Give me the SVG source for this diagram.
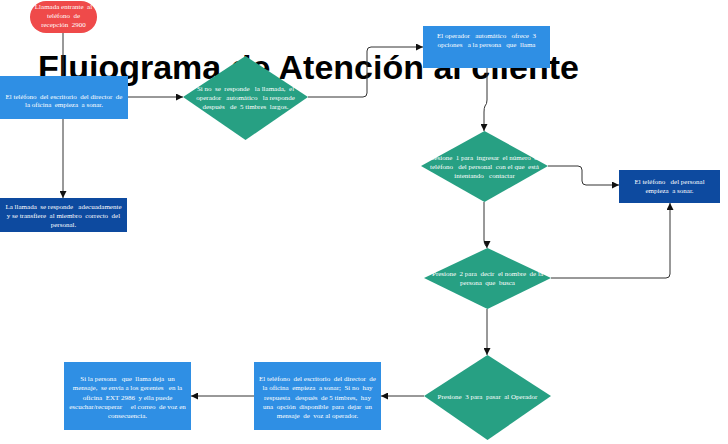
<svg xmlns="http://www.w3.org/2000/svg" width="728" height="444" viewBox="0 0 728 444">
<style>
.t{font-family:"Liberation Serif","Times New Roman",serif;font-size:7px;fill:#fff;text-anchor:middle;white-space:pre}
.title{font-family:"Liberation Sans",Arial,sans-serif;font-size:34px;font-weight:bold;fill:#000}
.b{fill:#2f8fe4}
.d{fill:#0d4a9f}
.g{fill:#27a083}
.c{fill:none;stroke:#333;stroke-width:1}
</style>
<defs>
<marker id="ah" viewBox="0 0 10 10" refX="10" refY="5" markerWidth="7" markerHeight="7" orient="auto" markerUnits="userSpaceOnUse">
<path d="M0,0 L10,5 L0,10 z" fill="#111"/>
</marker>
</defs>
<rect width="728" height="444" fill="#fff"/>
<text class="title" x="38" y="79">Flujograma de Atención al cliente</text>
<g id="connectors">
<path class="c" d="M63,33 V76"/>
<path class="c" d="M128,97 H183" marker-end="url(#ah)"/>
<path class="c" d="M63,119 V198" marker-end="url(#ah)"/>
<path class="c" d="M308,97 H363 Q367,97 367,93 V51 Q367,47 371,47 H423" marker-end="url(#ah)"/>
<path class="c" d="M487,68 V100 Q487,104 485,106 Q484,108 484,112 V131" marker-end="url(#ah)"/>
<path class="c" d="M548,166 H578 Q582,166 582,170 V181 Q582,185 586,185 H619" marker-end="url(#ah)"/>
<path class="c" d="M484,202 V240 Q484,244 486,246 Q487,247 487,248" marker-end="url(#ah)"/>
<path class="c" d="M551,278 H666 Q670,278 670,274 V203" marker-end="url(#ah)"/>
<path class="c" d="M487,309 V355" marker-end="url(#ah)"/>
<path class="c" d="M424,396 H381" marker-end="url(#ah)"/>
<path class="c" d="M254,396 H191" marker-end="url(#ah)"/>
</g>
<g id="n1">
<rect x="30" y="1" width="67" height="32" rx="16" fill="#ef4a4a"/>
<text class="t" x="63.5" y="9">Llamada entrante  al</text>
<text class="t" x="63.5" y="18">teléfono  de</text>
<text class="t" x="63.5" y="27">recepción  2900</text>
</g>
<g id="n2">
<rect class="b" x="0" y="76" width="128" height="43"/>
<text class="t" x="64" y="99">El teléfono  del escritorio  del director  de</text>
<text class="t" x="64" y="107">la oficina  empieza  a sonar.</text>
</g>
<g id="n3">
<rect class="d" x="0" y="198" width="127" height="34"/>
<text class="t" x="63.5" y="209">La llamada  se responde   adecuadamente</text>
<text class="t" x="63.5" y="218">y se transfiere  al miembro  correcto  del</text>
<text class="t" x="63.5" y="227">personal.</text>
</g>
<g id="n4">
<polygon class="g" points="183,97 245.5,56 308,97 245.5,140"/>
<text class="t" x="245.5" y="91">Si no  se  responde   la llamada,  el</text>
<text class="t" x="245.5" y="100">operador   automático   la responde</text>
<text class="t" x="245.5" y="109">después   de  5 timbres  largos.</text>
</g>
<g id="n5">
<rect class="b" x="423" y="26" width="127" height="42"/>
<text class="t" x="486.5" y="38">El operador   automático   ofrece  3</text>
<text class="t" x="486.5" y="47">opciones   a la persona   que  llama</text>
</g>
<g id="n6">
<polygon class="g" points="421,166 484.5,131 548,166 484.5,202"/>
<text class="t" x="484.5" y="160">Presione  1 para  ingresar  el número  de</text>
<text class="t" x="484.5" y="169">teléfono   del personal  con el que  está</text>
<text class="t" x="484.5" y="178">intentando   contactar</text>
</g>
<g id="n7">
<rect class="d" x="619" y="170" width="101" height="33"/>
<text class="t" x="669.5" y="184">El teléfono   del personal</text>
<text class="t" x="669.5" y="193">empieza  a sonar.</text>
</g>
<g id="n8">
<polygon class="g" points="424,278 487.5,248 551,278 487.5,309"/>
<text class="t" x="487.5" y="276">Presione  2 para  decir  el nombre  de la</text>
<text class="t" x="487.5" y="285">persona  que  busca</text>
</g>
<g id="n9">
<polygon class="g" points="424,396 487.5,355 551,396 487.5,440"/>
<text class="t" x="487.5" y="399">Presione  3 para  pasar  al Operador</text>
</g>
<g id="n10">
<rect class="b" x="254" y="362" width="127" height="68"/>
<text class="t" x="317.5" y="381">El teléfono  del escritorio  del director  de</text>
<text class="t" x="317.5" y="390">la oficina  empieza  a sonar;  Si no  hay</text>
<text class="t" x="317.5" y="400">respuesta   después  de 5 timbres,  hay</text>
<text class="t" x="317.5" y="409">una  opción  disponible  para  dejar  un</text>
<text class="t" x="317.5" y="418">mensaje  de  voz al operador.</text>
</g>
<g id="n11">
<rect class="b" x="64" y="362" width="127" height="68"/>
<text class="t" x="127.5" y="381">Si la persona   que  llama deja  un</text>
<text class="t" x="127.5" y="390">mensaje,  se envía a los gerentes   en la</text>
<text class="t" x="127.5" y="400">oficina  EXT 2986  y ella puede</text>
<text class="t" x="127.5" y="409">escuchar/recuperar     el correo  de voz en</text>
<text class="t" x="127.5" y="418">consecuencia.</text>
</g>
</svg>
